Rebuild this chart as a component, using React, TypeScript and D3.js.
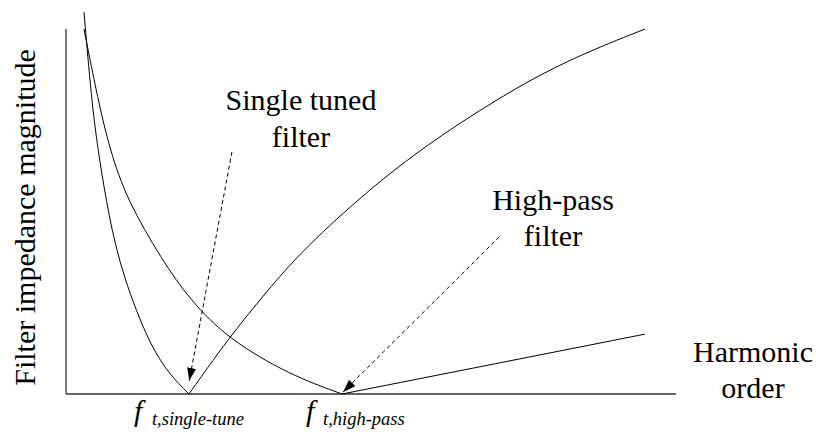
import * as d3 from "d3";

// harmonic order (arbitrary units) vs impedance magnitude (arbitrary units)
const singleTunedLeft: [number, number][] = [
  [0.295, 10.47], [0.418, 8.05], [0.525, 6.68], [0.656, 5.32], [0.852, 3.67], [1.262, 1.75], [1.623, 0.66], [2.016, 0],
];
const singleTunedRight: [number, number][] = [
  [2.016, 0], [2.656, 1.51], [3.311, 2.85], [3.836, 3.86], [4.77, 5.32], [5.803, 6.71], [7.115, 8.14], [8.213, 9.15], [9.492, 10.0],
];
const highPassCurve: [number, number][] = [
  [0.295, 10.0], [0.525, 8.05], [0.721, 6.68], [1.0, 5.32], [1.574, 3.67], [2.033, 2.58], [2.656, 1.51], [3.672, 0.52], [4.525, 0],
];
const highPassLine: [number, number][] = [
  [4.525, 0], [9.492, 1.64],
];

const fSingle = 2.016;
const fHigh = 4.525;

const arrows = [
  { from: [2.72, 6.63], to: [2.02, 0.36] },
  { from: [7.1, 4.3], to: [4.54, 0.05] },
];

const labels = [
  { text: "Single tuned", x: 301, y: 110 },
  { text: "filter", x: 301, y: 147 },
  { text: "High-pass", x: 553, y: 210 },
  { text: "filter", x: 553, y: 246 },
  { text: "Harmonic", x: 753, y: 362 },
  { text: "order", x: 753, y: 398 },
];

const xMax = 10;
const yMax = 10;

const txt = { fontFamily: '"Times New Roman"', fontSize: "30px" };

function App() {
  const width = 816;
  const height = 436;
  const margin = { left: 66, right: 140, top: 29, bottom: 42 };

  const xScale = d3.scaleLinear().domain([0, xMax]).range([margin.left, width - margin.right]);
  const yScale = d3.scaleLinear().domain([0, yMax]).range([height - margin.bottom, margin.top]);

  const curve = d3
    .line<[number, number]>()
    .x((d) => xScale(d[0]))
    .y((d) => yScale(d[1]))
    .curve(d3.curveBasis);
  const straight = d3
    .line<[number, number]>()
    .x((d) => xScale(d[0]))
    .y((d) => yScale(d[1]));

  const x0 = xScale(0);
  const y0 = yScale(0);

  return (
    <svg width={width} height={height} style={{ position: "absolute", left: 0, top: 0 }}>
      <defs>
        <marker
          id="arrow-head"
          viewBox="0 0 13 9"
          refX="13"
          refY="4.5"
          markerWidth="13"
          markerHeight="9"
          markerUnits="userSpaceOnUse"
          orient="auto"
        >
          <path d="M0,0 L13,4.5 L0,9 Z" fill="#000" />
        </marker>
      </defs>

      {/* axes */}
      <line x1={x0} y1={yScale(yMax)} x2={x0} y2={y0} stroke="#333" strokeWidth={1.3} />
      <line x1={x0} y1={y0} x2={xScale(xMax)} y2={y0} stroke="#333" strokeWidth={1.3} />

      {/* curves */}
      <path d={curve(singleTunedLeft) || ""} fill="none" stroke="#000" strokeWidth={1} />
      <path d={curve(singleTunedRight) || ""} fill="none" stroke="#000" strokeWidth={1} />
      <path d={curve(highPassCurve) || ""} fill="none" stroke="#000" strokeWidth={1} />
      <path d={straight(highPassLine) || ""} fill="none" stroke="#000" strokeWidth={1} />

      {/* dashed pointers */}
      {arrows.map((a, i) => (
        <line
          key={i}
          x1={xScale(a.from[0])}
          y1={yScale(a.from[1])}
          x2={xScale(a.to[0])}
          y2={yScale(a.to[1])}
          stroke="#000"
          strokeWidth={1}
          strokeDasharray="4,3"
          markerEnd="url(#arrow-head)"
        />
      ))}

      {/* labels */}
      <text
        transform={`translate(35, ${(yScale(yMax) + y0) / 2 + 6}) rotate(-90)`}
        textAnchor="middle"
        style={txt}
      >
        Filter impedance magnitude
      </text>

      {labels.map((l) => (
        <text key={l.text + l.y} x={l.x} y={l.y} textAnchor="middle" style={txt}>
          {l.text}
        </text>
      ))}

      <text y={421} style={{ ...txt, fontStyle: "italic" }}>
        <tspan x={xScale(fSingle) - 55}>f</tspan>
        <tspan x={xScale(fSingle) - 37} dy={4} style={{ fontSize: "18.5px" }}>t,single-tune</tspan>
      </text>
      <text y={421} style={{ ...txt, fontStyle: "italic" }}>
        <tspan x={xScale(fHigh) - 36}>f</tspan>
        <tspan x={xScale(fHigh) - 19} dy={4} style={{ fontSize: "18.5px" }}>t,high-pass</tspan>
      </text>
    </svg>
  );
}

export default App;
